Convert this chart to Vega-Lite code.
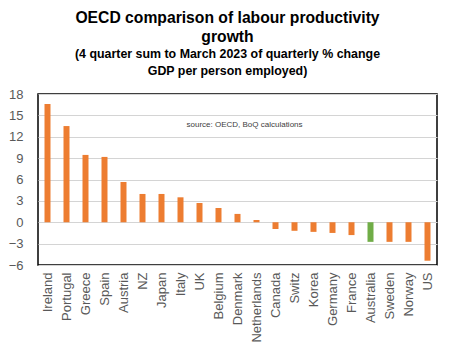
{
  "$schema": "https://vega.github.io/schema/vega-lite/v6.json",
  "autosize": {"type": "none"},
  "padding": {"left": 38, "top": 94, "right": 15, "bottom": 89},
  "width": 399,
  "height": 171,
  "background": "white",
  "view": {"stroke": "black", "strokeWidth": 1.5},
  "config": {
    "font": "Liberation Sans",
    "view": {"stroke": "black", "strokeWidth": 1.5}
  },
  "title": {
    "text": ["OECD comparison of labour productivity", "growth"],
    "subtitle": ["(4 quarter sum to March 2023 of quarterly % change", "GDP per person employed)"],
    "font": "Liberation Sans",
    "fontSize": 15.7,
    "fontWeight": "bold",
    "color": "black",
    "lineHeight": 19,
    "subtitleFont": "Liberation Sans",
    "subtitleFontSize": 12.4,
    "subtitleFontWeight": "bold",
    "subtitleColor": "black",
    "subtitleLineHeight": 17,
    "subtitlePadding": 2,
    "anchor": "middle",
    "dx": -10,
    "offset": 10
  },
  "data": {
    "values": [
      {"country": "Ireland", "value": 16.6, "group": "other"},
      {"country": "Portugal", "value": 13.5, "group": "other"},
      {"country": "Greece", "value": 9.45, "group": "other"},
      {"country": "Spain", "value": 9.17, "group": "other"},
      {"country": "Austria", "value": 5.65, "group": "other"},
      {"country": "NZ", "value": 3.97, "group": "other"},
      {"country": "Japan", "value": 3.97, "group": "other"},
      {"country": "Italy", "value": 3.5, "group": "other"},
      {"country": "UK", "value": 2.7, "group": "other"},
      {"country": "Belgium", "value": 2.0, "group": "other"},
      {"country": "Denmark", "value": 1.17, "group": "other"},
      {"country": "Netherlands", "value": 0.32, "group": "other"},
      {"country": "Canada", "value": -0.95, "group": "other"},
      {"country": "Switz", "value": -1.2, "group": "other"},
      {"country": "Korea", "value": -1.35, "group": "other"},
      {"country": "Germany", "value": -1.5, "group": "other"},
      {"country": "France", "value": -1.8, "group": "other"},
      {"country": "Australia", "value": -2.75, "group": "Australia"},
      {"country": "Sweden", "value": -2.75, "group": "other"},
      {"country": "Norway", "value": -2.75, "group": "other"},
      {"country": "US", "value": -5.4, "group": "other"}
    ]
  },
  "encoding": {
    "x": {
      "field": "country", "type": "nominal", "sort": null,
      "scale": {"paddingInner": 0, "paddingOuter": 0},
      "axis": {
        "title": null, "labelAngle": -90, "labelAlign": "right", "labelBaseline": "middle",
        "labelFontSize": 13, "labelColor": "#595959", "labelPadding": 7,
        "ticks": false, "domain": false, "grid": false
      }
    },
    "y": {
      "field": "value", "type": "quantitative",
      "scale": {"domain": [-6, 18], "nice": false, "zero": false},
      "axis": {
        "title": null, "values": [-6, -3, 0, 3, 6, 9, 12, 15, 18],
        "labelFontSize": 13, "labelColor": "#595959", "labelPadding": 15,
        "labelOverlap": false,
        "ticks": false, "domain": false,
        "gridColor": "#d4d4d4", "gridWidth": 1
      }
    }
  },
  "layer": [
    {
      "mark": {"type": "bar", "size": 6},
      "encoding": {
        "color": {
          "field": "group", "type": "nominal",
          "scale": {"domain": ["other", "Australia"], "range": ["#ED7D31", "#70AD47"]},
          "legend": null
        }
      }
    },
    {
      "data": {"values": [{"country": "Italy", "value": 13.65, "label": "source:  OECD, BoQ calculations"}]},
      "mark": {"type": "text", "align": "left", "baseline": "middle", "fontSize": 8, "dx": 6, "color": "#404040"},
      "encoding": {
        "text": {"field": "label"}
      }
    }
  ]
}
